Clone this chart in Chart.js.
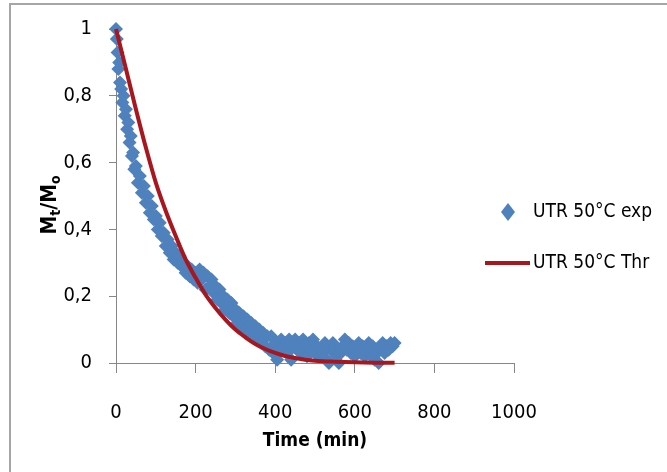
<!DOCTYPE html>
<html><head><meta charset="utf-8">
<script src="https://cdn.jsdelivr.net/npm/chart.js@4.4.0/dist/chart.umd.min.js"></script>
<style>
html,body{margin:0;padding:0;background:#fff;}
#wrap{position:relative;width:667px;height:472px;overflow:hidden;background:#fff;}
#frame{position:absolute;left:9px;top:3px;width:700px;height:520px;border-top:2px solid #a6a6a6;border-left:2px solid #a6a6a6;}
canvas{position:absolute;left:0;top:0;}
</style></head><body>
<div id="wrap"><div id="frame"></div><canvas id="c" width="667" height="472"></canvas></div>
<script>
// ---- data ----
const expTime = [0,2,4,6,8,10,13,16,19,22,25,28,31,34,37,40,43,46,50,55,60,65,70,75,80,85,90,95,100,105,110,115,120,125,130,135,140,145,150,155,160,165,170,175,180,185,190,195,200,205,210,215,220,225,230,235,240,245,250,255,260,265,270,275,280,285,290,295,300,305,310,315,320,325,330,335,340,345,350,355,360,365,370,375,380,385,390,395,400,405,410,415,420,425,430,435,440,445,450,455,460,465,470,475,480,485,490,495,500,505,510,515,520,525,530,535,540,545,550,555,560,565,570,575,580,585,590,595,600,605,610,615,620,625,630,635,640,645,650,655,660,665,670,675,680,685,690,695,700];
const expValue = [1.00,0.97,0.93,0.88,0.90,0.84,0.82,0.78,0.80,0.74,0.76,0.70,0.72,0.66,0.68,
  0.62,0.63,0.58,
  0.59,0.54,0.56,0.51,0.53,0.48,0.50,0.45,0.47,0.43,
  0.44,0.40,0.42,0.38,0.39,0.35,0.37,0.33,0.35,0.31,
  0.33,0.30,0.32,0.29,0.30,0.27,0.29,0.26,0.28,0.25,
  0.27,0.24,0.28,0.25,0.27,0.22,0.26,0.23,0.25,0.21,
  0.23,0.19,0.22,0.18,0.20,0.16,0.19,0.15,0.18,0.14,
  0.16,0.12,0.15,0.11,0.14,0.10,0.13,0.09,0.12,0.08,
  0.11,0.07,0.10,0.06,0.09,0.05,0.08,0.04,0.08,0.03,
  0.06,
  0.01,0.05,0.07,0.04,0.06,0.03,0.07,0.01,0.05,0.07,
  0.04,0.06,0.03,0.07,0.05,0.02,0.06,0.04,0.07,0.03,
  0.05,0.02,0.04,0.03,0.06,0.01,0.00,0.04,0.06,0.05,
  0.02,0.00,0.03,0.05,0.07,0.04,0.06,0.03,0.05,0.02,
  0.04,0.06,0.03,0.05,0.02,0.04,0.06,0.03,0.05,0.01,
  0.03,0.00,0.04,0.06,0.03,0.05,0.04,0.06,0.05,0.06];
const thrTime = [0,25,50,75,100,125,150,175,200,225,250,275,300,325,350,375,400,425,450,475,500,550,600,650,700];
const thrValue = [1.0,0.88,0.76,0.645,0.54,0.455,0.38,0.31,0.255,0.205,0.165,0.13,0.10,0.077,0.057,0.042,0.03,0.021,0.015,0.01,0.007,0.004,0.002,0.001,0.0005];
const xTicks = [0,200,400,600,800,1000];
const yTicks = [0,0.2,0.4,0.6,0.8,1];
const seriesNames = ['UTR 50°C exp','UTR 50°C Thr'];
const xTitle = 'Time (min)';
const yTitleParts = [['M',false],['t',true],['/',false],['M',false],['o',true]];

const BLUE = '#4F81BD', RED = '#A8161E', AXIS = '#868686';
const FONT = '"Liberation Sans Narrow", "DejaVu Sans Condensed", "Arial Narrow", sans-serif';

const toXY = (xs, ys) => xs.map((x, i) => ({x: x, y: ys[i]}));
const fmt = v => String(Math.round(v * 10) / 10).replace('.', ',');

const customDraw = {
  id: 'customDraw',
  afterDraw(chart) {
    const ctx = chart.ctx;
    ctx.save();
    // y title with subscripts
    ctx.translate(56, 205);
    ctx.rotate(-Math.PI / 2);
    ctx.fillStyle = '#000';
    ctx.textBaseline = 'alphabetic';
    let w = 0;
    const big = 'bold 21px ' + FONT, small = 'bold 14px ' + FONT;
    yTitleParts.forEach(([t, sub]) => { ctx.font = sub ? small : big; w += ctx.measureText(t).width; });
    let x = -w / 2;
    yTitleParts.forEach(([t, sub]) => {
      ctx.font = sub ? small : big;
      ctx.fillText(t, x, sub ? 4 : 0);
      x += ctx.measureText(t).width;
    });
    ctx.restore();

    // legend
    ctx.save();
    const d0 = chart.data.datasets[0], d1 = chart.data.datasets[1];
    ctx.fillStyle = d0.backgroundColor;
    ctx.beginPath();
    ctx.moveTo(508, 203); ctx.lineTo(515, 212); ctx.lineTo(508, 221); ctx.lineTo(501, 212); ctx.closePath();
    ctx.fill();
    ctx.strokeStyle = d1.borderColor; ctx.lineWidth = 4;
    ctx.beginPath(); ctx.moveTo(485, 263); ctx.lineTo(530, 263); ctx.stroke();
    ctx.fillStyle = '#000';
    ctx.font = '19px ' + FONT;
    ctx.textBaseline = 'middle';
    ctx.fillText(d0.label, 533, 212);
    ctx.fillText(d1.label, 533, 263);
    ctx.restore();
  }
};

new Chart(document.getElementById('c'), {
  type: 'scatter',
  data: {
    datasets: [
      {label: seriesNames[0], data: toXY(expTime, expValue), backgroundColor: BLUE, borderColor: BLUE, borderWidth: 0,
       pointStyle: 'rectRot', pointRadius: 7, pointHoverRadius: 7, order: 2, clip: false},
      {label: seriesNames[1], data: toXY(thrTime, thrValue), showLine: true, borderColor: RED, backgroundColor: RED,
       borderWidth: 4, pointRadius: 0, pointHoverRadius: 0, cubicInterpolationMode: 'monotone', order: 1, clip: false}
    ]
  },
  options: {
    responsive: false, animation: false, devicePixelRatio: 1,
    layout: {padding: {left: 0, right: 153, top: 23, bottom: 0}},
    plugins: {legend: {display: false}, tooltip: {enabled: false}},
    scales: {
      x: {
        type: 'linear', min: 0, max: 1000,
        afterBuildTicks: s => { s.ticks = xTicks.map(v => ({value: v})); },
        afterFit: s => { s.height = 109; },
        grid: {drawOnChartArea: false, drawTicks: true, tickLength: 10, color: AXIS, lineWidth: 1},
        border: {color: AXIS, width: 1},
        ticks: {color: '#000', font: {family: FONT, size: 20}, padding: 28, maxRotation: 0, callback: v => String(v)},
        title: {display: true, text: xTitle, color: '#000', font: {family: FONT, size: 19, weight: 'bold'}, padding: {top: 0, bottom: 20}}
      },
      y: {
        type: 'linear', min: 0, max: 1,
        afterBuildTicks: s => { s.ticks = yTicks.map(v => ({value: v})); },
        afterFit: s => { s.width = 116; },
        grid: {drawOnChartArea: false, drawTicks: true, tickLength: 7, color: AXIS, lineWidth: 1},
        border: {color: AXIS, width: 1},
        ticks: {color: '#000', font: {family: FONT, size: 20}, padding: 17, callback: v => fmt(v)}
      }
    }
  },
  plugins: [customDraw]
});
</script>
</body></html>
